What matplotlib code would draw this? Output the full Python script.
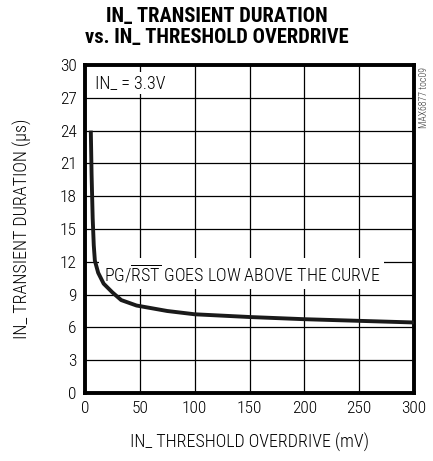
import matplotlib
matplotlib.use("Agg")
import matplotlib.pyplot as plt
from matplotlib import font_manager as fm

# data
overdrive_mv = [5.3, 6.0, 7.0, 8.0, 9.0, 12, 17, 25, 33, 47, 75, 100, 150, 200, 250, 300]
duration_us = [24.0, 20.0, 16.0, 13.5, 12.1, 11.0, 10.0, 9.2, 8.5, 8.0, 7.5, 7.2, 6.95, 6.75, 6.6, 6.45]
x_ticks = [0, 50, 100, 150, 200, 250, 300]
y_ticks = [0, 3, 6, 9, 12, 15, 18, 21, 24, 27, 30]

names = {f.name for f in fm.fontManager.ttflist}
cands = ['Roboto Condensed', 'Liberation Sans Narrow', 'Arimo', 'Liberation Sans', 'DejaVu Sans']
fam = [c for c in cands if c in names] or ['DejaVu Sans']
plt.rcParams['font.family'] = fam
condensed = fam[0] in ('Roboto Condensed', 'Liberation Sans Narrow')
k = 1.0 if condensed else 0.85
W = 'light' if condensed else 'normal'

fig = plt.figure(figsize=(4.33, 4.61), dpi=100)
ax = fig.add_axes([85/433, 68/461, 329/433, 328/461])
ax.plot(overdrive_mv, duration_us, color='#1a1a1a', lw=2.8, solid_capstyle='butt', zorder=5)
ax.set_xlim(0, 300)
ax.set_ylim(0, 30)
ax.set_xticks(x_ticks)
ax.set_yticks(y_ticks)
ax.grid(True, color='black', lw=0.9)
ax.tick_params(length=0, labelsize=12.5*k, pad=6)
for lab in ax.get_xticklabels() + ax.get_yticklabels():
    lab.set_fontweight(W)
for s in ax.spines.values():
    s.set_linewidth(2.8)
ax.set_xlabel('IN_ THRESHOLD OVERDRIVE (mV)', fontsize=13*k, labelpad=12, fontweight=W)
ax.set_ylabel('IN_ TRANSIENT DURATION (µs)', fontsize=13*k, labelpad=20, fontweight=W)

ax.text(9, 28.35, 'IN_ = 3.3V', fontsize=13*k, va='center', ha='left', fontweight=W,
        bbox=dict(facecolor='white', edgecolor='none', pad=1.5), zorder=4)
ax.text(143, 10.9, r'PG/$\overline{\mathregular{RST}}$ GOES LOW ABOVE THE CURVE', fontsize=13*k,
        va='center', ha='center', fontweight=W,
        bbox=dict(facecolor='white', edgecolor='none', pad=3), zorder=4)

fig.text(0.5, 1 - 7/461, 'IN_ TRANSIENT DURATION\nvs. IN_ THRESHOLD OVERDRIVE', ha='center', va='top',
         fontsize=14.8 if condensed else 12.5, fontweight='black', linespacing=1.15)
fig.text(424/433, 1 - 98/461, 'MAX6877 toc09', rotation=90, fontsize=7, ha='center', va='center',
         color='#333333', fontweight=W)

fig.savefig('out.png', dpi=100)
